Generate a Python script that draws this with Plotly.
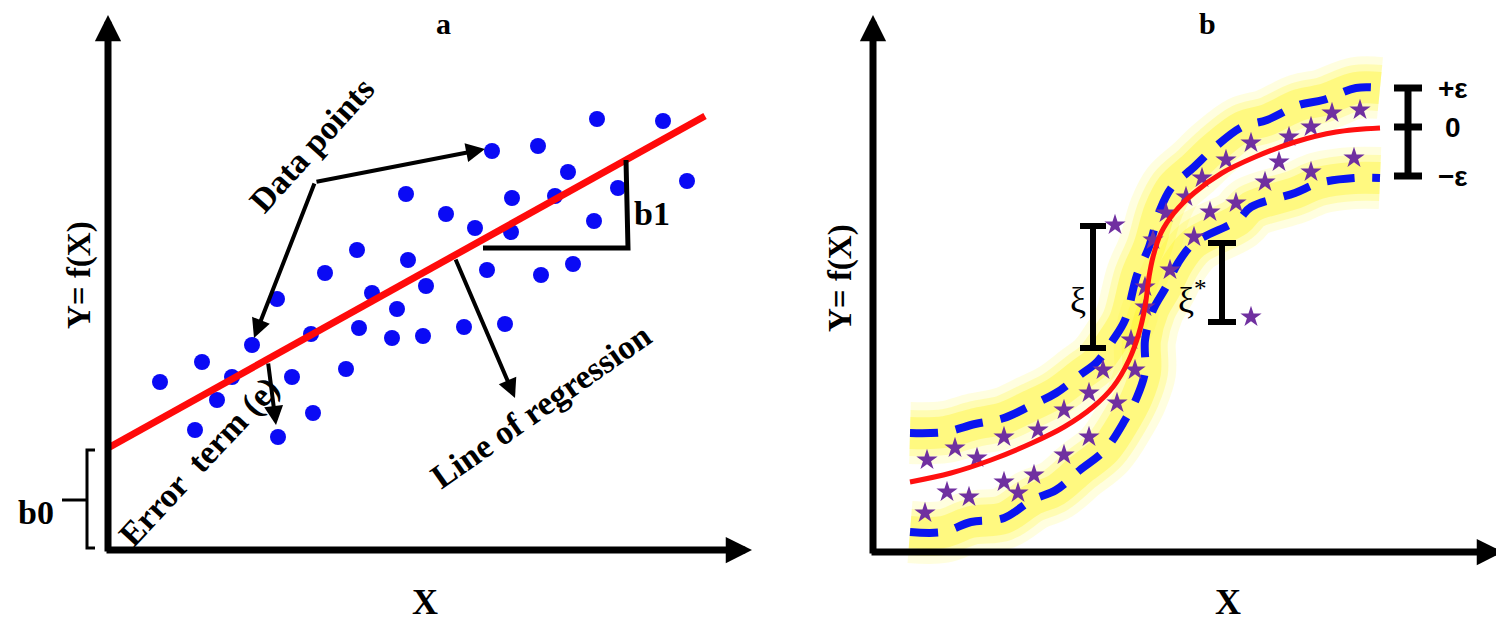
import plotly.graph_objects as go

# ---- panel a : linear regression (units = px from the axes origin) ----
dots_x = [489, 555, 384, 430, 460, 579, 298, 510, 404, 447, 338, 367, 403, 486,
          249, 300, 217, 379, 433, 465, 169, 264, 318, 289, 203, 251, 284, 315,
          356, 397, 144, 94, 52, 124, 184, 238, 109, 205, 87, 170]
dots_y = [431, 429, 399, 404, 378, 369, 356, 362, 352, 354, 336, 322, 318, 329,
          300, 290, 277, 280, 275, 286, 251, 257, 264, 241, 216, 222, 212, 214,
          223, 226, 205, 188, 168, 173, 173, 181, 150, 137, 120, 113]
fit_x = [0, 597]
fit_y = [102, 434]

# ---- panel b : support vector regression ----
curve_x = [37, 78, 118, 159, 191, 220, 240, 256, 266, 272, 276, 280, 288, 301,
           321, 349, 382, 422, 463, 507]
curve_y = [70, 79, 92, 109, 125, 145, 165, 192, 219, 245, 275, 295, 319, 339,
           359, 379, 395, 410, 420, 424]
upper_x = [37, 72, 102, 131, 157, 183, 207, 224, 240, 252, 264, 276, 287, 299,
           321, 341, 369, 394, 426, 450, 483, 507]
upper_y = [119, 120, 128, 134, 146, 159, 177, 190, 212, 232, 277, 305, 342, 365,
           385, 404, 425, 432, 447, 452, 464, 464]
lower_x = [37, 70, 98, 131, 159, 183, 207, 232, 252, 264, 272, 272, 280, 293,
           305, 321, 365, 378, 422, 446, 481, 507]
lower_y = [20, 20, 30, 34, 52, 62, 82, 102, 132, 155, 180, 212, 242, 265,
           289, 309, 332, 345, 359, 369, 374, 374]
stars_x = [54, 82, 104, 52, 74, 96, 131, 131, 145, 161, 165, 191, 191, 216, 216,
           230, 244, 258, 262, 272, 272, 280, 293, 297, 313, 321, 329, 337, 353,
           363, 378, 392, 406, 416, 438, 438, 459, 481, 487, 242, 378]
stars_y = [92, 104, 94, 39, 60, 55, 115, 70, 59, 77, 122, 142, 97, 115, 159,
           182, 149, 212, 182, 265, 245, 312, 339, 282, 355, 315, 374, 340, 392,
           349, 409, 370, 390, 415, 425, 380, 439, 394, 442, 327, 235]
eps_labels = ["+ε", "0", "−ε"]
eps_levels = [464, 425, 376]

BLACK = "#000000"
SERIF = "Liberation Serif"

fig = go.Figure()

# panel a
fig.add_trace(go.Scatter(x=dots_x, y=dots_y, mode="markers",
                         marker=dict(color="#0a0af5", size=16), xaxis="x", yaxis="y"))
fig.add_trace(go.Scatter(x=fit_x, y=fit_y, mode="lines",
                         line=dict(color="#ff0a0a", width=7), xaxis="x", yaxis="y"))
fig.add_trace(go.Scatter(x=[375, 520, 518], y=[302, 302, 390], mode="lines",
                         line=dict(color=BLACK, width=5), xaxis="x", yaxis="y"))
fig.add_trace(go.Scatter(x=[-13, -21, -21, -13, None, -21, -46], y=[100, 100, 2, 2, None, 50, 50],
                         mode="lines", line=dict(color=BLACK, width=3), xaxis="x", yaxis="y"))

# panel b : glow, bands, fit, stars
for w, a in [(62, 0.15), (46, 0.24), (32, 0.36)]:
    for bx, by in [(upper_x, upper_y), (lower_x, lower_y)]:
        fig.add_trace(go.Scatter(x=bx, y=by, mode="lines", line_shape="spline",
                                 line=dict(color=f"rgba(255,245,40,{a})", width=w),
                                 xaxis="x2", yaxis="y2"))
for bx, by in [(upper_x, upper_y), (lower_x, lower_y)]:
    fig.add_trace(go.Scatter(x=bx, y=by, mode="lines", line_shape="spline",
                             line=dict(color="#0a14f0", width=8, dash="28px,18px"),
                             xaxis="x2", yaxis="y2"))
fig.add_trace(go.Scatter(x=stars_x, y=stars_y, mode="markers",
                         marker=dict(symbol="star", color="#7030a0", size=16),
                         xaxis="x2", yaxis="y2"))
fig.add_trace(go.Scatter(x=curve_x, y=curve_y, mode="lines", line_shape="spline",
                         line=dict(color="#ff1010", width=5), xaxis="x2", yaxis="y2"))


# I-beam brackets in panel b
def ibeam(x, y0, y1, half, width):
    fig.add_trace(go.Scatter(x=[x - half, x + half, None, x, x, None, x - half, x + half],
                             y=[y0, y0, None, y0, y1, None, y1, y1], mode="lines",
                             line=dict(color=BLACK, width=width), xaxis="x2", yaxis="y2"))


ibeam(220, 204, 326, 13, 6)
ibeam(349, 230, 309, 14, 6)
ibeam(535, eps_levels[2], eps_levels[0], 14, 7)
fig.add_trace(go.Scatter(x=[521, 549], y=[eps_levels[1]] * 2, mode="lines",
                         line=dict(color=BLACK, width=7), xaxis="x2", yaxis="y2"))

ann = []


def arrow(x, y, ax, ay, width, size, ref="x", yref="y"):
    ann.append(dict(x=x, y=y, ax=ax, ay=ay, xref=ref, yref=yref, axref=ref, ayref=yref,
                    showarrow=True, arrowhead=2, arrowwidth=width, arrowsize=size,
                    arrowcolor=BLACK, text="", standoff=0))


def label(x, y, text, size, ref="x", yref="y", angle=0, family=SERIF):
    ann.append(dict(x=x, y=y, xref=ref, yref=yref, text=text, showarrow=False,
                    textangle=angle, font=dict(family=family, size=size, color=BLACK)))


# axes arrows
arrow(0, 535, 0, -3, 7, 0.75)
arrow(644, 0, -3, 0, 7, 0.75)
arrow(0, 537, 0, -3, 7, 0.75, "x2", "y2")
arrow(630, 0, -3, 0, 7, 0.75, "x2", "y2")

# pointer arrows in panel a
arrow(377, 401, 207, 368, 4, 0.95)
arrow(146, 212, 207, 368, 4, 0.95)
arrow(407, 152, 347, 292, 4, 0.95)
arrow(168, 125, 160, 188, 4, 0.95)

label(335, 527, "<b>a</b>", 30)
label(-29, 275, "<b>Y= f(X)</b>", 33, angle=-90)
label(317, -52, "<b>X</b>", 36)
label(544, 337, "<b>b1</b>", 34)
label(-72, 38, "<b>b0</b>", 34)
label(203, 405, "<b>Data points</b>", 34, angle=-48)
label(432, 144, "<b>Line of regression</b>", 34, angle=-35)
label(91, 88, "<b>Error  term (e)</b>", 34, angle=-47)

label(334, 529, "<b>b</b>", 30, "x2", "y2")
label(-33, 274, "<b>Y= f(X)</b>", 33, "x2", "y2", angle=-90)
label(355, -50, "<b>X</b>", 36, "x2", "y2")
label(205, 252, "ξ", 36, "x2", "y2")
label(319, 255, "ξ<sup>*</sup>", 36, "x2", "y2")
for t, lv in zip(eps_labels, eps_levels):
    label(580, lv, f"<b>{t}</b>", 28, "x2", "y2", family="Liberation Sans")

# the page body adds an 8 px offset, so the canvas is 8 px smaller and shifted
fig.update_layout(
    width=1496, height=620, margin=dict(l=0, r=0, t=0, b=0),
    paper_bgcolor="white", plot_bgcolor="white", showlegend=False,
    xaxis=dict(range=[-100, 1396], visible=False),
    yaxis=dict(range=[-78, 542], visible=False),
    xaxis2=dict(range=[-865, 631], visible=False, overlaying="x", anchor="y2"),
    yaxis2=dict(range=[-76, 544], visible=False, overlaying="y", anchor="x2"),
    annotations=ann,
)

fig.write_html("out.html")
